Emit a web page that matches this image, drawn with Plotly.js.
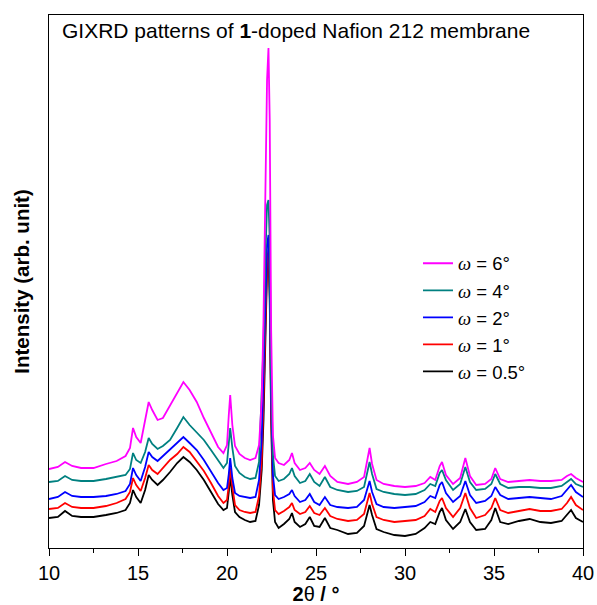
<!DOCTYPE html>
<html>
<head>
<meta charset="utf-8">
<script src="https://cdn.plot.ly/plotly-3.0.1.min.js"></script>
<style>html,body{margin:0;padding:0;background:#fff;}#chart{width:597px;height:605px;}</style>
</head>
<body>
<div id="chart"></div>
<script>
// 2-theta positions (degrees)
const twoTheta = [10,10.5,10.9,11.3,11.8,12.5,13.2,13.8,14.3,14.55,
  14.72,14.9,15.15,15.4,15.6,15.8,16.1,16.4,16.8,17.2,
  17.55,17.9,18.3,18.7,19.1,19.5,19.8,20.0,20.1,20.18,
  20.3,20.45,20.7,21.0,21.3,21.6,21.8,21.95,22.05,22.15,
  22.25,22.33,22.4,22.48,22.58,22.7,22.9,23.2,23.5,23.65,
  23.8,24.1,24.4,24.65,24.9,25.2,25.5,25.8,26.2,26.8,
  27.3,27.7,27.9,28.01,28.15,28.4,28.8,29.4,30.0,30.6,
  31.1,31.42,31.7,31.95,32.08,32.3,32.7,33.1,33.39,33.65,
  34.0,34.5,34.85,35.07,35.35,35.8,36.4,37.0,37.6,38.2,
  38.8,39.1,39.33,39.6,40.0];

// Intensities (arb. unit)
const omega05 = [30,31,37,32,31,31,33,35,38,45,
  58,51,45,58,73,68,63,68,76,85,
  91,86,78,68,56,44,38,40,56,71,
  53,36,31,28,26,27,43,78,128,208,
  278,293,248,128,48,26,20,24,29,35,
  26,21,24,31,22,21,30,20,18,14,
  15,22,36,43,33,19,16,13,12,14,
  20,26,24,36,40,28,19,26,39,26,
  18,19,28,40,26,24,27,29,26,25,
  27,33,38,30,26];
const omega1 = [39,40,45,41,40,40,42,45,49,56,
  70,63,57,70,83,78,74,80,88,94,
  101,96,87,77,65,52,45,48,63,80,
  61,43,38,36,35,36,52,88,148,228,
  288,298,258,138,58,38,34,37,41,45,
  38,34,36,42,35,33,40,32,29,27,
  28,34,48,55,44,31,28,26,27,28,
  32,39,36,47,50,40,31,40,55,40,
  30,33,40,50,38,35,37,39,37,37,
  39,45,51,43,38];
const omega2 = [49,51,56,52,51,51,52,54,57,64,
  80,73,67,81,96,91,87,92,99,106,
  111,105,98,88,76,65,58,60,74,90,
  70,55,52,51,50,51,68,108,168,248,
  303,313,268,148,73,53,49,51,54,58,
  52,46,48,54,46,43,51,43,41,40,
  41,48,60,67,56,44,41,40,41,42,
  46,52,50,63,66,55,46,52,67,53,
  45,47,52,61,53,49,50,51,50,49,
  52,58,63,56,51];
const omega4 = [66,67,72,68,67,67,69,71,73,79,
  95,88,85,96,110,104,99,102,108,120,
  131,123,116,108,98,87,80,85,103,120,
  100,82,75,71,69,70,86,168,203,288,
  343,348,308,168,93,72,67,69,74,80,
  72,65,67,74,66,62,71,61,58,56,
  57,61,78,86,74,59,56,54,53,54,
  58,64,62,75,78,68,58,64,81,66,
  58,59,64,74,64,60,61,61,60,60,
  62,66,69,64,61];
const omega6 = [79,81,86,82,80,80,84,87,92,100,
  120,111,105,128,146,138,128,130,143,156,
  166,158,146,130,115,101,95,103,133,153,
  123,102,94,90,88,90,103,148,228,348,
  468,500,428,218,113,90,85,83,88,95,
  85,78,80,85,78,74,82,72,66,64,
  66,71,88,100,84,68,64,62,61,62,
  65,71,68,82,86,73,64,70,90,72,
  63,64,69,80,69,66,67,68,67,67,
  68,72,74,70,66];

const seriesNames = ['0.5','1','2','4','6'];
const seriesData = [omega05, omega1, omega2, omega4, omega6];
const seriesColors = ['#000000','#ff0000','#0000ff','#008080','#ff00ff'];

const traces = seriesData.map((ys, i) => ({
  x: twoTheta,
  y: ys,
  type: 'scatter',
  mode: 'lines',
  name: "<span style='font-family:\"Liberation Serif\"'><i>ω</i></span> = " + seriesNames[i] + '°',
  line: {color: seriesColors[i], width: 1.8}
}));

const layout = {
  width: 597, height: 605,
  margin: {l: 49, r: 14, t: 15, b: 57},
  paper_bgcolor: '#fff', plot_bgcolor: '#fff',
  font: {family: 'Liberation Sans, Arial, sans-serif', color: '#000', size: 20},
  showlegend: true,
  legend: {
    x: 0.691, y: 0.569, xanchor: 'left', yanchor: 'top',
    traceorder: 'reversed', bgcolor: 'rgba(0,0,0,0)', borderwidth: 0,
    font: {size: 18.5}
  },
  xaxis: {
    range: [10, 40], dtick: 5, tick0: 10,
    ticks: 'outside', ticklen: 7, tickwidth: 1, tickcolor: '#000',
    minor: {dtick: 2.5, ticks: 'outside', ticklen: 4, tickcolor: '#000'},
    showline: true, linecolor: '#000', linewidth: 1.2, mirror: true,
    showgrid: false, zeroline: false,
    tickfont: {size: 20},
    title: {text: '<b>2</b>θ<b> / °</b>', font: {size: 20}, standoff: 4}
  },
  yaxis: {
    range: [0, 533],
    showticklabels: false, ticks: '',
    showline: true, linecolor: '#000', linewidth: 1.2, mirror: true,
    showgrid: false, zeroline: false,
    title: {text: '<b>Intensity (arb. unit)</b>', font: {size: 20.5}, standoff: 12}
  },
  annotations: [{
    xref: 'paper', yref: 'paper', x: 0.02, y: 0.997, xanchor: 'left', yanchor: 'top',
    text: 'GIXRD patterns of <b>1</b>-doped Nafion 212 membrane',
    showarrow: false, font: {size: 21}
  }]
};

Plotly.newPlot('chart', traces, layout, {displayModeBar: false, staticPlot: true});
</script>
</body>
</html>
